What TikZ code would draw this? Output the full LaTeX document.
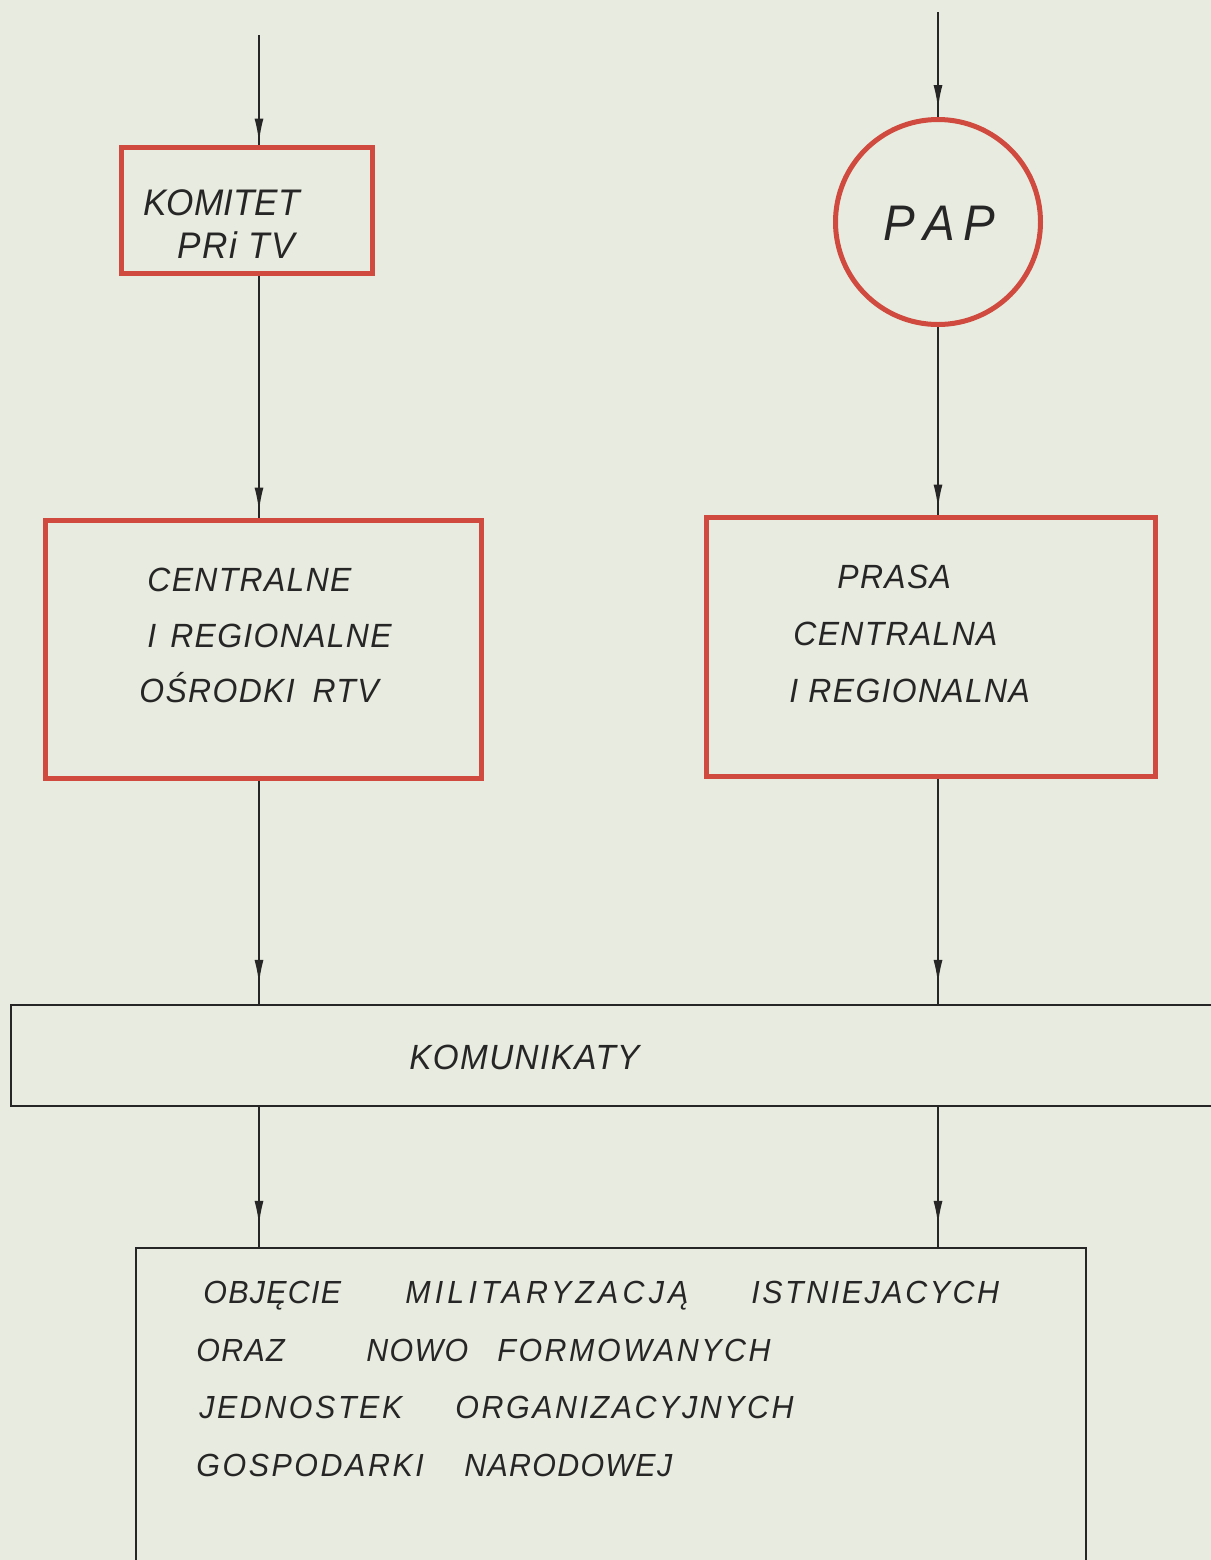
\documentclass[tikz,border=0pt]{standalone}
\usepackage{fontspec}
\setmainfont{Liberation Sans}
\newfontfamily\stencil[LetterSpace=4,FakeStretch=0.95]{Liberation Sans}
\newfontfamily\stenciltight[LetterSpace=0,FakeStretch=0.95]{Liberation Sans}
\newfontfamily\stencilwide[LetterSpace=8,FakeStretch=0.95]{Liberation Sans}
\newfontfamily\stencilwider[LetterSpace=13,FakeStretch=0.95]{Liberation Sans}
\usetikzlibrary{arrows.meta,decorations.markings}
\definecolor{paper}{HTML}{E8EBDF}
\definecolor{redink}{HTML}{D04A40}
\definecolor{ink}{HTML}{262626}
\tikzset{
  redbox/.style={draw=redink, line width=2.5pt, rectangle, inner sep=0pt},
  blackbox/.style={draw=ink, line width=1.1pt, rectangle, inner sep=0pt},
  lbl/.style={anchor=base west, inner sep=0pt, text=ink},
  flowline/.style={draw=ink, line width=1pt, postaction={decorate},
    decoration={markings, mark=at position #1 with {\arrow{Latex[length=12pt,width=4.5pt]}}}},
  flowline/.default=-2pt,
}
\begin{document}
\begin{tikzpicture}[x=0.5pt,y=-0.5pt]
\useasboundingbox (0,0) rectangle (1211,1560);
\clip (0,0) rectangle (1211,1560);
\fill[paper] (0,0) rectangle (1211,1560);

% boxes
\node[redbox, minimum width=125.5pt, minimum height=63pt] (komitet) at (246.5,210) {};
\node[redbox, circle, minimum size=102.5pt] (pap) at (938,222) {};
\node[redbox, minimum width=218pt, minimum height=129pt] (centralne) at (263,649) {};
\node[redbox, minimum width=224.5pt, minimum height=129.5pt] (prasa) at (930.5,646.5) {};
\node[blackbox, minimum width=609.5pt, minimum height=50.5pt] (komunikaty) at (620.5,1055.5) {};
\node[blackbox, minimum width=475pt, minimum height=176pt] (bottom) at (611,1424) {};

% connectors
\coordinate (ltop) at (259,35);
\coordinate (rtop) at (938,12);
\draw[flowline=-1pt] (ltop) -- (ltop |- komitet.north);
\draw[flowline=-3pt] (komitet.south -| ltop) -- (ltop |- centralne.north);
\draw[flowline=-4pt] (rtop) -- (pap.north);
\draw[flowline=-3pt] (pap.south) -- (pap.south |- prasa.north);
\draw[flowline=-10pt] (centralne.south -| ltop) -- (ltop |- komunikaty.north);
\draw[flowline=-10pt] (prasa.south -| pap.south) -- (pap.south |- komunikaty.north);
\draw[flowline=-11pt] (komunikaty.south -| ltop) -- (ltop |- bottom.north);
\draw[flowline=-11pt] (komunikaty.south -| pap.south) -- (pap.south |- bottom.north);

% texts
\node[lbl, font=\stenciltight\itshape\fontsize{18.5}{20}\selectfont] (t1) at (143,215) {KOMITET};
\node[lbl, font=\stencil\itshape\fontsize{18.5}{20}\selectfont] (t2) at (177,258) {PRi TV};
\node[lbl, font=\stencil\itshape\fontsize{25}{28}\selectfont] (t3) at (883,240) {P\,A\,P};

\node[lbl, font=\stencil\itshape\fontsize{16.8}{19}\selectfont] (t4) at (147,591) {CENTRALNE};
\node[lbl, font=\stencil\itshape\fontsize{16.8}{19}\selectfont] (t5) at (147,647) {I\hspace{7pt}REGIONALNE};
\node[lbl, font=\stencil\itshape\fontsize{16.8}{19}\selectfont] (t6) at (139,702) {OŚRODKI\hspace{9pt}RTV};
\node[lbl, font=\stencil\itshape\fontsize{16.8}{19}\selectfont] (t7) at (837,588) {PRASA};
\node[lbl, font=\stencil\itshape\fontsize{16.8}{19}\selectfont] (t8) at (793,645) {CENTRALNA};
\node[lbl, font=\stencil\itshape\fontsize{16.8}{19}\selectfont] (t9) at (789,702) {I REGIONALNA};

\node[lbl, font=\stencil\itshape\fontsize{17.5}{19}\selectfont] (t10) at (409,1069) {KOMUNIKATY};

\node[lbl, font=\stencil\itshape\fontsize{16}{19}\selectfont] (w1) at (203,1303) {OBJĘCIE};
\node[lbl, font=\stencilwider\itshape\fontsize{16}{19}\selectfont] (w2) at (405,1303) {MILITARYZACJĄ};
\node[lbl, font=\stencilwide\itshape\fontsize{16}{19}\selectfont] (w3) at (751,1303) {ISTNIEJACYCH};
\node[lbl, font=\stencil\itshape\fontsize{16}{19}\selectfont] (w4) at (196,1361) {ORAZ};
\node[lbl, font=\stencil\itshape\fontsize{16}{19}\selectfont] (w5) at (366,1361) {NOWO};
\node[lbl, font=\stencilwide\itshape\fontsize{16}{19}\selectfont] (w6) at (497,1361) {FORMOWANYCH};
\node[lbl, font=\stencilwide\itshape\fontsize{16}{19}\selectfont] (w7) at (199,1418) {JEDNOSTEK};
\node[lbl, font=\stencilwide\itshape\fontsize{16}{19}\selectfont] (w8) at (455,1418) {ORGANIZACYJNYCH};
\node[lbl, font=\stencilwide\itshape\fontsize{16}{19}\selectfont] (w9) at (196,1476) {GOSPODARKI};
\node[lbl, font=\stencil\itshape\fontsize{16}{19}\selectfont] (w10) at (464,1476) {NARODOWEJ};
\end{tikzpicture}
\end{document}
